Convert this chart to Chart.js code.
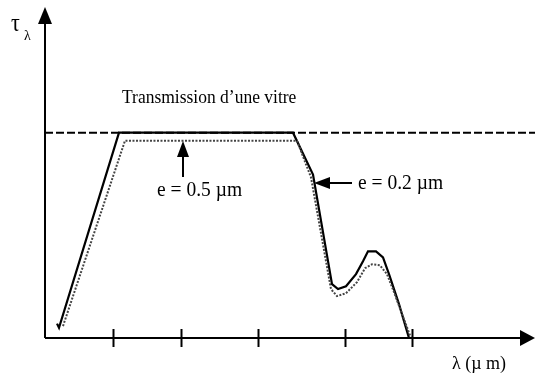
<!doctype html>
<html lang="fr">
  <head>
    <meta charset="utf-8">
    <title>Transmission d'une vitre</title>
    <style>
      * { margin: 0; padding: 0; }
      body { background: #fff; }
      .chartBox { width: 535px; height: 374px; }
    </style>
  </head>
  <body>
    <div class="chartBox">
      <canvas id="myChart" width="535" height="374"></canvas>
    </div>
    <script src="https://cdn.jsdelivr.net/npm/chart.js/dist/chart.umd.min.js"></script>
    <script>
    // values (x in arbitrary wavelength units, y = transmission, 1 = glass)
    const thinX = [1.2, 1.4, 7.4, 24.8, 26.8, 28.7, 29.3, 30.1, 31.1, 31.8, 32.3, 33.1, 33.8, 34.4, 35.4, 36.4];
    const thinY = [0.07, 0.05, 1.0, 1.0, 0.796, 0.262, 0.238, 0.252, 0.311, 0.374, 0.422, 0.422, 0.393, 0.311, 0.165, 0.0];
    const thickX = [1.8, 8.0, 25.2, 26.6, 28.6, 29.2, 30.1, 31.2, 32.0, 32.7, 33.5, 34.2, 34.9, 35.7, 36.6];
    const thickY = [0.058, 0.961, 0.961, 0.782, 0.238, 0.204, 0.218, 0.272, 0.340, 0.359, 0.354, 0.311, 0.223, 0.117, 0.0];
    const glassX = [0, 49.1];
    const glassY = [1.0, 1.0];
    const tickValues = [6.8, 13.6, 21.3, 30.0, 36.7];

    const toPoints = (xs, ys) => xs.map((x, i) => ({ x: x, y: ys[i] }));

    const serif = '"Liberation Serif", "DejaVu Serif", serif';

    // text a bit taller than wide, like the scanned figure
    function tallText(ctx, txt, x, y, size, sy) {
      ctx.save();
      ctx.translate(x, y);
      ctx.scale(1, sy);
      ctx.font = size + 'px ' + serif;
      ctx.fillText(txt, 0, 0);
      ctx.restore();
    }

    // hand drawn axes, arrows and notes
    const axesPlugin = {
      id: 'axesPlugin',
      afterDraw(chart) {
        const ctx = chart.ctx;
        const xs = chart.scales.x;
        const ys = chart.scales.y;
        const x0 = xs.getPixelForValue(0);
        const y0 = ys.getPixelForValue(0);
        ctx.save();
        ctx.strokeStyle = '#000';
        ctx.fillStyle = '#000';
        ctx.lineWidth = 2;

        // y axis
        ctx.beginPath();
        ctx.moveTo(x0, y0);
        ctx.lineTo(x0, 22);
        ctx.stroke();
        ctx.beginPath();
        ctx.moveTo(x0, 7);
        ctx.lineTo(x0 - 7, 24);
        ctx.lineTo(x0 + 7, 24);
        ctx.closePath();
        ctx.fill();

        // x axis
        ctx.beginPath();
        ctx.moveTo(x0, y0);
        ctx.lineTo(527, y0);
        ctx.stroke();
        ctx.beginPath();
        ctx.moveTo(535, y0);
        ctx.lineTo(520, y0 - 8);
        ctx.lineTo(520, y0 + 8);
        ctx.closePath();
        ctx.fill();

        // ticks crossing the axis
        tickValues.forEach(v => {
          const px = Math.round(xs.getPixelForValue(v)) + 0.5;
          ctx.beginPath();
          ctx.moveTo(px, y0 - 9);
          ctx.lineTo(px, y0 + 9);
          ctx.stroke();
        });

        // axis titles
        ctx.textBaseline = 'alphabetic';
        tallText(ctx, '\u03C4', 11, 31, 22, 1.1);
        tallText(ctx, '\u03BB', 24, 40, 14, 1.1);
        tallText(ctx, '\u03BB (\u00B5 m)', 452, 369, 18, 1.1);

        // notes
        tallText(ctx, 'Transmission d\u2019une vitre', 122, 103, 17.5, 1.1);
        tallText(ctx, 'e = 0.5 \u00B5m', 157, 196, 19.5, 1.1);
        tallText(ctx, 'e = 0.2 \u00B5m', 358, 189, 19.5, 1.1);

        // arrow up to the 0.5 um curve
        ctx.lineWidth = 2;
        ctx.beginPath();
        ctx.moveTo(183, 177);
        ctx.lineTo(183, 152);
        ctx.stroke();
        ctx.beginPath();
        ctx.moveTo(183, 141);
        ctx.lineTo(177, 157);
        ctx.lineTo(189, 157);
        ctx.closePath();
        ctx.fill();

        // arrow left to the 0.2 um curve
        ctx.beginPath();
        ctx.moveTo(352, 183);
        ctx.lineTo(325, 183);
        ctx.stroke();
        ctx.beginPath();
        ctx.moveTo(314, 183);
        ctx.lineTo(330, 177);
        ctx.lineTo(330, 189);
        ctx.closePath();
        ctx.fill();

        ctx.restore();
      }
    };

    const data = {
      datasets: [
        {
          label: 'vitre',
          data: toPoints(glassX, glassY),
          borderColor: '#000',
          borderWidth: 2,
          borderDash: [8, 3],
          pointRadius: 0
        },
        {
          label: 'e = 0.5 um',
          data: toPoints(thickX, thickY),
          borderColor: '#444',
          borderWidth: 2,
          borderDash: [2, 1.5],
          pointRadius: 0,
          tension: 0
        },
        {
          label: 'e = 0.2 um',
          data: toPoints(thinX, thinY),
          borderColor: '#000',
          borderWidth: 2.2,
          pointRadius: 0,
          tension: 0
        }
      ]
    };

    const config = {
      type: 'line',
      data,
      options: {
        responsive: false,
        animation: false,
        events: [],
        layout: { padding: { left: 45, right: 0, top: 0, bottom: 36 } },
        scales: {
          x: { type: 'linear', min: 0, max: 49.0, display: false },
          y: { min: 0, max: 1.646, display: false }
        },
        plugins: {
          legend: { display: false },
          tooltip: { enabled: false }
        }
      },
      plugins: [axesPlugin]
    };

    const myChart = new Chart(document.getElementById('myChart'), config);
    </script>
  </body>
</html>
